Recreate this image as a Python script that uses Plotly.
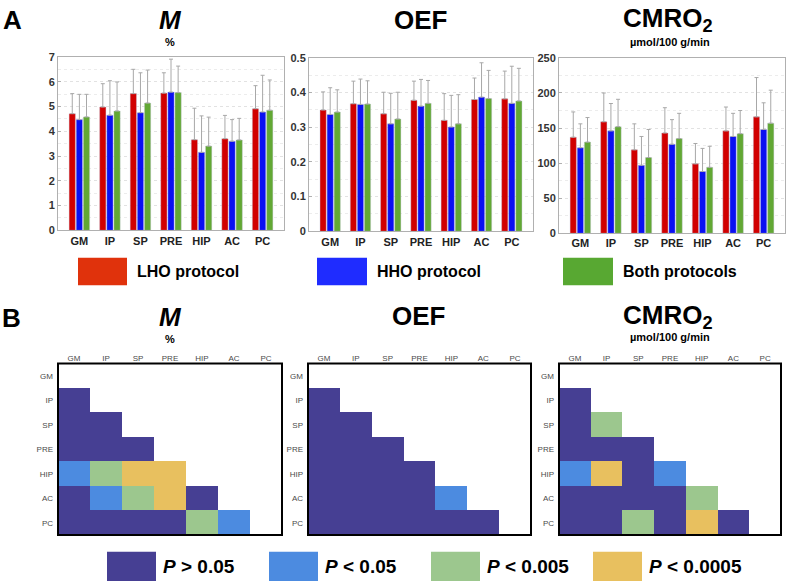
import plotly.graph_objects as go

# ---------------- data ----------------
regions = ["GM", "IP", "SP", "PRE", "HIP", "AC", "PC"]
protocols = ["LHO protocol", "HHO protocol", "Both protocols"]

M_lho = [4.71, 4.98, 5.52, 5.54, 3.66, 3.70, 4.91]
M_hho = [4.47, 4.65, 4.75, 5.58, 3.15, 3.60, 4.78]
M_both = [4.58, 4.82, 5.14, 5.56, 3.40, 3.65, 4.85]
M_lho_top = [5.52, 5.92, 6.50, 6.36, 4.93, 4.64, 5.84]
M_hho_top = [5.49, 6.04, 6.36, 6.91, 4.62, 4.47, 6.26]
M_both_top = [5.49, 5.99, 6.47, 6.63, 4.57, 4.52, 6.07]

OEF_lho = [0.350, 0.368, 0.339, 0.378, 0.320, 0.380, 0.382]
OEF_hho = [0.337, 0.366, 0.310, 0.361, 0.301, 0.387, 0.369]
OEF_both = [0.344, 0.367, 0.324, 0.369, 0.310, 0.383, 0.376]
OEF_lho_top = [0.402, 0.433, 0.401, 0.433, 0.397, 0.442, 0.462]
OEF_hho_top = [0.414, 0.439, 0.398, 0.438, 0.392, 0.486, 0.476]
OEF_both_top = [0.408, 0.434, 0.401, 0.435, 0.394, 0.464, 0.470]

CM_lho = [137, 159, 119, 143, 99, 146, 166]
CM_hho = [122, 146, 97, 127, 88, 138, 148]
CM_both = [130, 152, 108, 135, 94, 142, 157]
CM_lho_top = [173, 200, 156, 179, 128, 180, 222]
CM_hho_top = [156, 185, 138, 162, 121, 171, 186]
CM_both_top = [165, 191, 148, 171, 124, 175, 204]

# significance level: 0 P>0.05, 1 P<0.05, 2 P<0.005, 3 P<0.0005 (lower triangle rows)
sig_M = [[], [0], [0, 0], [0, 0, 0], [1, 2, 3, 3], [0, 1, 2, 3, 0], [0, 0, 0, 0, 2, 1]]
sig_OEF = [[], [0], [0, 0], [0, 0, 0], [0, 0, 0, 0], [0, 0, 0, 0, 1], [0, 0, 0, 0, 0, 0]]
sig_CM = [[], [0], [0, 2], [0, 0, 0], [1, 3, 0, 1], [0, 0, 0, 0, 2], [0, 0, 2, 0, 3, 0]]
sig_labels = ["<i>P</i> &gt; 0.05", "<i>P</i> &lt; 0.05", "<i>P</i> &lt; 0.005", "<i>P</i> &lt; 0.0005"]

# ---------------- style ----------------
W, H = 786, 588
FONT = "Liberation Sans, Arial, sans-serif"
bar_colors = ["#d10000", "#0a10f2", "#62a834"]
leg_colors = ["#e0320c", "#1f2cff", "#58a832"]
sig_colors = ["#463f93", "#4c8be0", "#9cc78e", "#e8c05f"]


def px(x):
    return x / W


def py(y):
    return 1 - y / H


fig = go.Figure()

bar_sets = [
    (M_lho, M_hho, M_both, M_lho_top, M_hho_top, M_both_top),
    (OEF_lho, OEF_hho, OEF_both, OEF_lho_top, OEF_hho_top, OEF_both_top),
    (CM_lho, CM_hho, CM_both, CM_lho_top, CM_hho_top, CM_both_top),
]
for k, s in enumerate(bar_sets):
    xa = "x" if k == 0 else f"x{k+1}"
    ya = "y" if k == 0 else f"y{k+1}"
    for j in range(3):
        vals = s[j]
        tops = s[j + 3]
        fig.add_trace(go.Bar(
            x=regions, y=vals, name=protocols[j], xaxis=xa, yaxis=ya,
            marker=dict(color=bar_colors[j], line=dict(color="rgba(200,200,220,0.8)", width=0.5)),
            error_y=dict(type="data", symmetric=False,
                         array=[t - v for t, v in zip(tops, vals)],
                         arrayminus=[0] * len(vals),
                         color="#a8a8a8", thickness=1, width=2),
            showlegend=False,
        ))

for k, sig in enumerate([sig_M, sig_OEF, sig_CM]):
    z = []
    for i in range(len(regions)):
        row = []
        for j in range(len(regions)):
            row.append(sig[i][j] if j < i else None)
        z.append(row)
    n = k + 4
    fig.add_trace(go.Heatmap(
        x=regions, y=regions, z=z, xaxis=f"x{n}", yaxis=f"y{n}",
        zmin=0, zmax=3, showscale=False, xgap=0, ygap=0,
        colorscale=[[0, sig_colors[0]], [0.25, sig_colors[0]], [0.25, sig_colors[1]], [0.5, sig_colors[1]],
                    [0.5, sig_colors[2]], [0.75, sig_colors[2]], [0.75, sig_colors[3]], [1, sig_colors[3]]],
        hoverinfo="skip",
    ))

layout = dict(
    width=W, height=H, margin=dict(l=0, r=0, t=0, b=0),
    paper_bgcolor="white", plot_bgcolor="white",
    barmode="group", bargap=0.3, bargroupgap=0.12,
    font=dict(family=FONT, color="#222"),
)

bar_dom = [((58, 284), (52, 229)), ((309, 533), (53, 230)), ((559, 785), (53, 232))]
yranges = [(0, 7, 1, 0.5), (0, 0.5, 0.1, 0.05), (0, 250, 50, 25)]
for k in range(3):
    (x0, x1), (y0, y1) = bar_dom[k]
    xk = "xaxis" if k == 0 else f"xaxis{k+1}"
    yk = "yaxis" if k == 0 else f"yaxis{k+1}"
    ylo, yhi, dt, mdt = yranges[k]
    layout[xk] = dict(
        domain=[px(x0), px(x1)], anchor="y" if k == 0 else f"y{k+1}",
        type="category", range=[-0.7, 6.7], showline=True, mirror=True,
        linecolor="#b0b0b0", linewidth=1, ticks="", showgrid=False,
        tickfont=dict(size=11, color="#222", weight="bold"),
    )
    layout[yk] = dict(
        domain=[py(y1), py(y0)], anchor="x" if k == 0 else f"x{k+1}",
        range=[ylo, yhi], dtick=dt, showline=True, mirror=True,
        linecolor="#b0b0b0", linewidth=1, ticks="inside", ticklen=3, tickcolor="#b0b0b0",
        showgrid=True, gridcolor="#e2e2e2", griddash="dot", gridwidth=1, zeroline=False,
        minor=dict(dtick=mdt, showgrid=True, gridcolor="#ececec", griddash="dot"),
        tickfont=dict(size=11, color="#333", weight="bold"),
    )

heat_dom = [(58, 282), (308, 531), (559, 781)]
shapes = []
for k in range(3):
    n = k + 4
    x0, x1 = heat_dom[k]
    layout[f"xaxis{n}"] = dict(
        domain=[px(x0), px(x1)], anchor=f"y{n}", side="top", type="category",
        showline=False, showgrid=False, zeroline=False, ticks="",
        tickfont=dict(size=8, color="#4a4a4a"), range=[-0.5, 6.5],
    )
    layout[f"yaxis{n}"] = dict(
        domain=[py(540), py(365)], anchor=f"x{n}", type="category",
        range=[6.5, -0.5], showline=False, showgrid=False, zeroline=False, ticks="",
        tickfont=dict(size=8, color="#4a4a4a"), ticklabelstandoff=4,
    )
    shapes.append(dict(type="rect", xref=f"x{n} domain", yref=f"y{n} domain",
                       x0=0, x1=1, y0=0, y1=1, line=dict(color="black", width=2)))

annotations = []


def add_text(x, y, text, size, xanchor="center", weight="bold", color="#000"):
    annotations.append(dict(
        x=px(x), y=py(y), xref="paper", yref="paper", text=text, showarrow=False,
        xanchor=xanchor, yanchor="middle",
        font=dict(family=FONT, size=size, color=color, weight=weight),
    ))


add_text(13, 14, "A", 26)
add_text(11, 318, "B", 26)
# titles panel A
add_text(170, 14, "<i>M</i>", 26)
add_text(170, 37, "%", 11)
add_text(420, 14, "OEF", 26)
add_text(668, 14, "CMRO<sub>2</sub>", 26)
add_text(670, 37, "µmol/100 g/min", 11)
# titles panel B
add_text(170, 317, "<i>M</i>", 26)
add_text(170, 340, "%", 11)
add_text(418, 316, "OEF", 26)
add_text(668, 317, "CMRO<sub>2</sub>", 26)
add_text(670, 338, "µmol/100 g/min", 11)

# protocol legend
leg_boxes = [(78, 127), (317, 367), (563, 613)]
for j in range(3):
    a, b = leg_boxes[j]
    shapes.append(dict(type="rect", xref="paper", yref="paper", x0=px(a), x1=px(b),
                       y0=py(285), y1=py(257), fillcolor=leg_colors[j], line=dict(width=0)))
    add_text(b + 8, 271, protocols[j], 16, xanchor="left")

# significance legend
sig_boxes = [(107, 156), (269, 318), (431, 480), (593, 642)]
for j in range(4):
    a, b = sig_boxes[j]
    shapes.append(dict(type="rect", xref="paper", yref="paper", x0=px(a), x1=px(b),
                       y0=py(587), y1=py(557), fillcolor=sig_colors[j], line=dict(width=0)))
    add_text(b + 5, 572, sig_labels[j], 19, xanchor="left")

layout["shapes"] = shapes
layout["annotations"] = annotations
fig.update_layout(**layout)
fig.write_html("out.html", config={"displayModeBar": False},
               post_script="document.body.style.margin='0';document.body.style.overflow='hidden';")
